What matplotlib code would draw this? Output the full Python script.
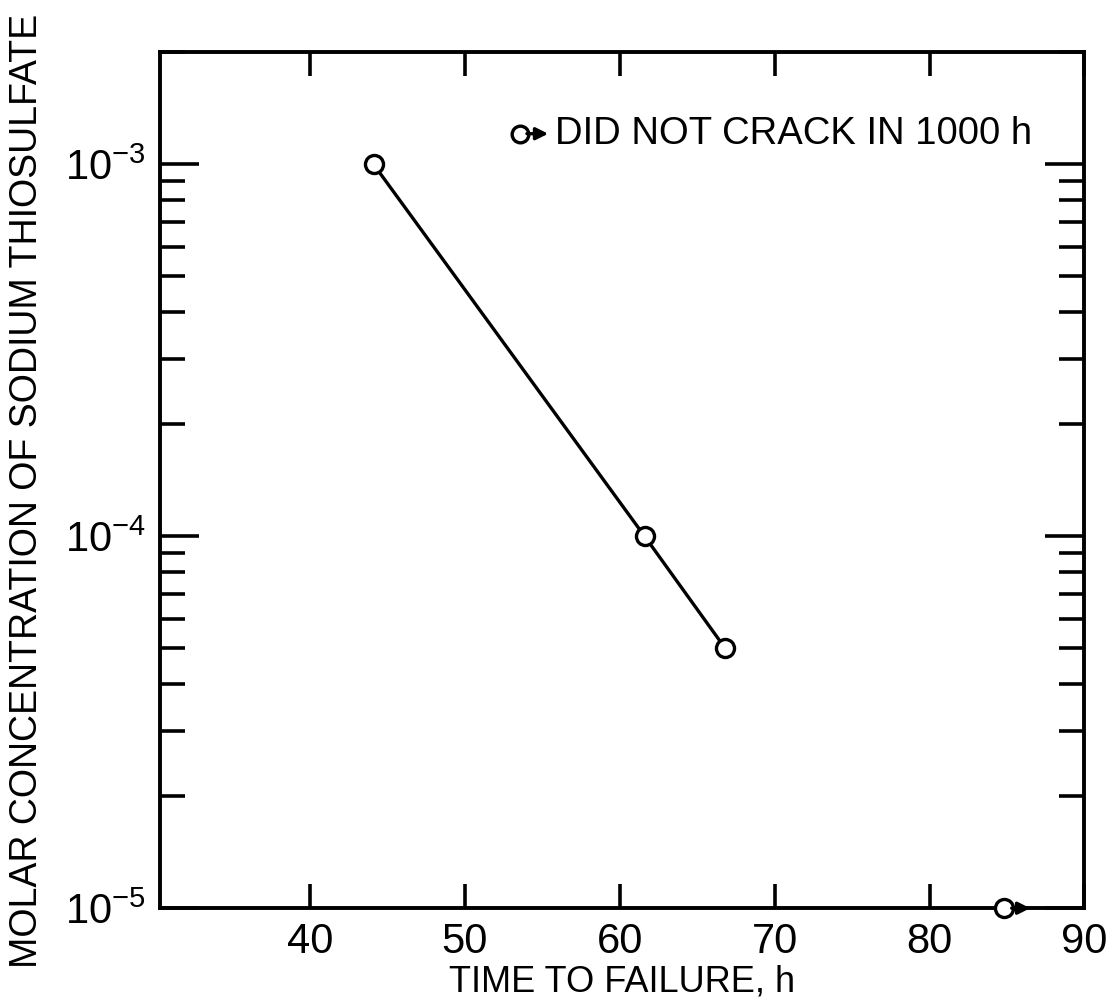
import matplotlib.pyplot as plt
import matplotlib.ticker as mticker

# data
time_h = [44.1, 61.6, 66.8]
conc = [1e-3, 1e-4, 5e-5]
nocrack_time = [84.8]
nocrack_conc = [1e-5]

xticks = [40, 50, 60, 70, 80, 90]
yticks = [1e-5, 1e-4, 1e-3]
ylabels = [r'$10^{-5}$', r'$10^{-4}$', r'$10^{-3}$']

plt.rcParams['font.family'] = ['Liberation Sans', 'DejaVu Sans']
plt.rcParams['mathtext.fontset'] = 'custom'
plt.rcParams['mathtext.rm'] = 'Liberation Sans'

fig = plt.figure(figsize=(11.18, 10.08), dpi=100)
ax = fig.add_axes([0.143, 0.099, 0.827, 0.849])

ax.plot(time_h, conc, color='black', lw=2.4, marker='o', ms=13,
        mfc='white', mec='black', mew=2.4, zorder=3)
ax.plot(nocrack_time, nocrack_conc, ls='none', marker='o', ms=13,
        mfc='white', mec='black', mew=2.4, zorder=4, clip_on=False)

# arrows on the no-crack points
for xx, yy in zip(nocrack_time, nocrack_conc):
    ax.annotate('', xy=(xx + 1.7, yy), xytext=(xx + 0.5, yy),
                xycoords='data', textcoords='data',
                arrowprops=dict(arrowstyle='-|>', color='black', lw=2.4,
                                mutation_scale=18, shrinkA=0, shrinkB=0),
                annotation_clip=False, zorder=5)

ax.set_yscale('log')
ax.set_xlim(30.3, 90)
ax.set_ylim(1e-5, 2e-3)

ax.set_xticks(xticks)
ax.set_xticklabels([str(t) for t in xticks])
ax.set_yticks(yticks)
ax.set_yticklabels(ylabels)
ax.yaxis.set_minor_locator(mticker.LogLocator(base=10, subs=range(2, 10)))
ax.yaxis.set_minor_formatter(mticker.NullFormatter())

ax.tick_params(which='both', direction='in', top=True, right=True,
               width=2.6, labelsize=30, pad=10)
ax.tick_params(axis='x', which='major', length=17)
ax.tick_params(axis='y', which='major', length=28)
ax.tick_params(axis='y', which='minor', length=18)
for s in ax.spines.values():
    s.set_linewidth(2.8)

ax.set_xlabel('TIME TO FAILURE, h', fontsize=26, labelpad=2)
ax.set_ylabel('MOLAR CONCENTRATION OF SODIUM THIOSULFATE', fontsize=27)
ax.yaxis.set_label_coords(-0.124, 0.487)

# legend note
ax.plot([0.389], [0.905], transform=ax.transAxes, marker='o', ms=12,
        mfc='white', mec='black', mew=2.4, ls='none')
ax.annotate('', xy=(0.420, 0.905), xytext=(0.397, 0.905),
            xycoords='axes fraction', textcoords='axes fraction',
            arrowprops=dict(arrowstyle='-|>', color='black', lw=2.4,
                            mutation_scale=18, shrinkA=0, shrinkB=0))
ax.text(0.427, 0.905, 'DID NOT CRACK IN 1000 h', transform=ax.transAxes,
        fontsize=27.5, va='center', ha='left')

fig.savefig('out.png', dpi=100, facecolor='white')
